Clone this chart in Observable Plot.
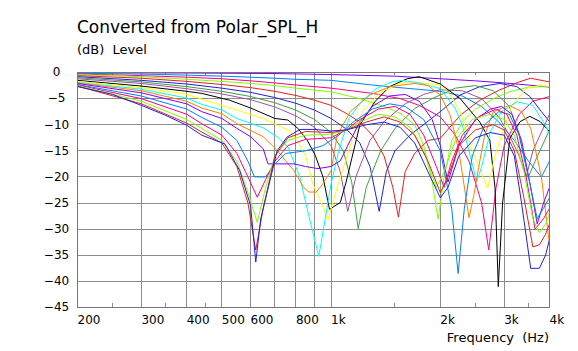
<!DOCTYPE html>
<html><head><meta charset="utf-8">
<script src="https://cdn.jsdelivr.net/npm/d3@7"></script>
<script src="https://cdn.jsdelivr.net/npm/@observablehq/plot@0.6"></script>
<style>
body{margin:0;background:#fff}
svg{display:block}
</style>
</head><body><div id="chart"></div>
<script>
const title = "Converted from Polar_SPL_H";
const yUnit = "(dB)  Level";
const xLabel = "Frequency  (Hz)";
const xTicks = [200,300,400,500,600,800,1000,2000,3000,4000];
const xTickLabels = ["200","300","400","500","600","800","1k","2k","3k","4k"];
const xGrid = [300,400,500,600,700,800,900,1000,2000,3000];
const xMinor = [250,350,450,1500,2500,3500];
const yTicks = [0,-5,-10,-15,-20,-25,-30,-35,-40,-45];
const yGrid = [-5,-10,-15,-20,-25,-30,-35,-40];
const xDomain = [200,4000];
const yDomain = [-45,0];

const colors = ["#ff8000","#8000ff","#0080ff","#ff0080","#80ff00","#e02020","#2020e0","#40a040","#a050a0","#000000","#ffff00","#00ffff",
                "#ff8000","#8000ff","#0080ff","#ff0080","#80ff00","#e02020","#2020e0"];

const s00 = [[200,0],[4000,0]];
const s01 = [[200,-0.05],[400,-0.1],[700,-0.2],[1000,-0.4],[1500,-0.7],[2000,-1.2],[2500,-1.6],[3000,-2.0],[3500,-2.4],[4000,-2.8]];
const s02 = [[200,-0.15],[300,-0.3],[400,-0.5],[500,-0.7],[600,-0.9],[700,-1.1],[800,-1.3],[1000,-1.5],[1300,-2.4],[1600,-3.0],[2000,-3.6],[2300,-4.5],[2600,-6.5],[2900,-9.5],[3200,-13],[3500,-17],[3800,-20],[4000,-17]];
const s03 = [[200,-0.3],[300,-0.6],[400,-0.9],[500,-1.2],[600,-1.6],[700,-2.0],[800,-2.4],[1000,-3.0],[1300,-4.0],[1550,-5.0],[1750,-6.3],[2000,-8.5],[2200,-12],[2400,-17],[2600,-25],[2720,-34],[2850,-22],[3000,-14],[3300,-8],[3600,-5.5],[4000,-4.6]];
const s04 = [[200,-0.4],[300,-0.8],[400,-1.3],[500,-1.7],[600,-2.1],[700,-2.5],[800,-3.0],[1000,-3.7],[1200,-5.0],[1400,-6.5],[1550,-7.8],[1700,-10],[1800,-14],[1900,-21],[1972,-28.1],[2050,-20],[2150,-13],[2300,-9.5],[2500,-7],[2800,-5],[3100,-3.7],[3500,-2.8],[4000,-2.7]];
const s05 = [[200,-0.6],[300,-1.1],[400,-1.7],[500,-2.3],[600,-2.9],[700,-3.6],[800,-4.4],[900,-5.3],[1000,-6.3],[1100,-7.8],[1200,-9.5],[1300,-12],[1400,-16],[1480,-22],[1533,-27.7],[1600,-19],[1700,-15.5],[1850,-13],[2000,-12.6],[2270,-8.2],[2570,-5.3],[2900,-3.4],[3300,-1.8],[3550,-1.1],[4000,-1.8]];
const s06 = [[200,-0.8],[300,-1.5],[400,-2.2],[500,-3.0],[600,-3.8],[700,-4.8],[800,-5.9],[900,-7.2],[1000,-8.8],[1100,-10.8],[1200,-13.5],[1280,-18],[1357,-26.6],[1420,-19],[1500,-15],[1650,-12],[2000,-7.5],[2270,-4.3],[2570,-2.7],[2920,-2.1],[3250,-2.7],[3530,-4.6],[3800,-7.5],[4000,-9.4]];
const s07 = [[200,-1.0],[300,-1.8],[400,-2.7],[500,-3.6],[600,-4.6],[700,-5.8],[800,-7.2],[900,-9.0],[1000,-11.5],[1080,-15],[1140,-21],[1188,-29.9],[1250,-22],[1370,-15],[1500,-10.7],[1700,-6.9],[1900,-5.0],[2200,-3.0],[2500,-2.5],[2800,-3.5],[3100,-6.5],[3300,-12],[3500,-20],[3650,-17],[4000,-11]];
const s08 = [[200,-1.2],[300,-2.1],[400,-3.1],[500,-4.1],[600,-5.2],[700,-6.6],[800,-8.3],[900,-10.5],[1000,-14],[1060,-19],[1112,-26.6],[1170,-20],[1280,-13],[1400,-9.4],[1600,-6],[1800,-4.2],[2000,-3.3],[2300,-3.5],[2600,-5],[2900,-8.5],[3100,-12],[3300,-16],[3450,-20],[3600,-15],[4000,-8]];
const s09 = [[200,-1.5],[300,-2.6],[400,-3.6],[440,-4.0],[525,-5.3],[600,-6.8],[700,-8.8],[760,-9.1],[810,-10.7],[860,-13],[905,-15.9],[950,-20],[990,-26.2],[1060,-24.9],[1100,-21],[1140,-16.5],[1200,-10.1],[1320,-5.6],[1450,-2.7],[1620,-1.2],[1750,-0.8],[2000,-2.2],[2270,-5],[2570,-9.5],[2740,-13],[2830,-22],[2890,-41],[2970,-25],[3110,-12.6],[3320,-9.4],[3530,-8.4],[3770,-9.4],[4000,-11.3]];
const s10 = [[200,-1.7],[300,-2.9],[400,-4.2],[440,-5.1],[500,-6.3],[550,-7.2],[650,-8.8],[710,-10.1],[760,-11],[810,-13.3],[850,-15.9],[890,-21.3],[940,-25],[980,-28.3],[1020,-24],[1060,-20],[1110,-15.8],[1150,-12],[1220,-7.5],[1370,-3.7],[1550,-2.1],[1650,-1.8],[2000,-2.4],[2130,-4.3],[2270,-7.5],[2350,-10.7],[2450,-14.9],[2700,-22.2],[2800,-17.4],[2860,-15],[2950,-12],[3150,-6.3],[3450,-3.1],[3770,-2.4],[4000,-2.7]];
const s11 = [[200,-1.9],[300,-3.2],[400,-4.9],[440,-6.1],[500,-7.2],[550,-8.8],[650,-10.6],[710,-12.3],[760,-14.2],[820,-20],[870,-27.7],[925,-35.2],[965,-27.7],[1000,-21.3],[1050,-15],[1120,-8.8],[1210,-5.6],[1330,-3.1],[1470,-1.8],[1560,-1.5],[1750,-2],[2000,-3.1],[2200,-6.9],[2300,-10.1],[2400,-15],[2520,-21],[2600,-18],[2750,-11.3],[2950,-7.5],[3250,-5.6],[3600,-6.3],[3900,-10.1],[4000,-12]];
const s12 = [[200,-2.0],[300,-3.5],[400,-5.5],[440,-6.8],[500,-7.9],[550,-9.8],[650,-12.3],[710,-14.9],[750,-16.9],[790,-18.8],[840,-22],[870,-22.9],[910,-22.9],[950,-21.3],[1000,-18.8],[1040,-12],[1130,-7.5],[1280,-4.3],[1450,-2.7],[1700,-2.1],[1850,-2.5],[2000,-4.3],[2130,-8.2],[2250,-15],[2400,-27.8],[2480,-23.2],[2550,-18.2],[2650,-12],[2800,-7.5],[3100,-6.3],[3350,-7.5],[3550,-10.7],[3800,-20],[4000,-33]];
const s13 = [[200,-2.1],[300,-3.9],[400,-6.0],[440,-7.5],[500,-8.8],[550,-10.7],[600,-12.3],[650,-14.6],[670,-17.5],[790,-17.5],[850,-18],[920,-18.4],[1000,-18],[1060,-16.9],[1130,-13],[1200,-9.5],[1300,-6.5],[1450,-4.5],[1600,-4.2],[1750,-5.5],[1900,-9],[2000,-14],[2100,-21],[2250,-14],[2500,-9],[2750,-7],[2950,-6.5],[3150,-8],[3350,-13],[3550,-22],[3700,-29],[3850,-25],[4000,-22]];
const s14 = [[200,-2.3],[300,-4.5],[400,-7],[440,-8.6],[500,-10.5],[550,-13],[590,-17],[615,-20],[660,-20],[700,-17.5],[750,-15.5],[850,-15],[950,-14],[1050,-12],[1150,-9.5],[1300,-7],[1450,-6],[1600,-6.5],[1800,-9],[2000,-15],[2150,-26],[2240,-38.5],[2330,-26],[2450,-16],[2650,-10],[2900,-7.5],[3100,-8],[3300,-12],[3500,-20],[3700,-28],[3850,-26],[4000,-24]];
const s15 = [[200,-2.4],[300,-5],[400,-8],[440,-9.8],[500,-12],[550,-15.5],[590,-20],[626,-23.9],[660,-20.5],[700,-17],[760,-14],[850,-12.8],[1000,-12.5],[1100,-11],[1200,-9],[1350,-7],[1500,-6.5],[1650,-8],[1800,-12],[1950,-18],[2050,-22],[2150,-17],[2300,-12],[2550,-8.5],[2850,-7],[3050,-8],[3250,-12],[3450,-20],[3650,-30],[3850,-28],[4000,-26]];
const s16 = [[200,-2.5],[300,-5.5],[400,-9],[440,-10.7],[500,-13],[550,-17],[590,-23],[626,-28.7],[660,-22],[700,-16],[760,-13],[850,-12],[1000,-11.8],[1100,-11],[1200,-9.5],[1350,-8],[1500,-8.5],[1650,-10.5],[1800,-15],[1950,-22],[2050,-19],[2200,-13],[2450,-9],[2750,-8],[3000,-9],[3200,-12],[3400,-19],[3600,-28],[3750,-30.7],[3900,-29],[4000,-27]];
const s17 = [[200,-2.6],[300,-6],[400,-9.7],[440,-11.4],[500,-13.5],[550,-18],[590,-25],[620,-34],[650,-26],[700,-16],[760,-12.5],[850,-11.3],[1000,-11.5],[1100,-11],[1250,-9.5],[1400,-8.5],[1550,-9.5],[1700,-12],[1850,-17],[2000,-23],[2100,-20],[2250,-14],[2500,-11],[2800,-10],[3000,-11],[3200,-15],[3400,-24],[3600,-33.4],[3750,-33],[3900,-31],[4000,-29]];
const s18 = [[200,-2.7],[250,-4.2],[300,-6.3],[350,-8.2],[400,-10.1],[440,-12],[510,-13.7],[560,-18.8],[600,-25.5],[620,-36.3],[640,-28],[710,-15],[755,-12.4],[820,-10.9],[900,-10.9],[1000,-11.2],[1100,-11],[1250,-10],[1400,-9.5],[1550,-10.5],[1700,-13.5],[1850,-19],[2000,-24],[2100,-22],[2250,-16],[2500,-12.5],[2750,-11.5],[3000,-12],[3200,-16],[3350,-25],[3550,-37.5],[3750,-37.5],[3900,-35],[4000,-32]];

const series = [s00,s01,s02,s03,s04,s05,s06,s07,s08,s09,s10,s11,s12,s13,s14,s15,s16,s17,s18];

const font = "DejaVu Sans, Verdana, sans-serif";
const gridColor = "#8c8c8c";
const labelOf = new Map(xTicks.map((t,i)=>[t, xTickLabels[i]]));

const chart = Plot.plot({
  width: 578, height: 351,
  marginLeft: 77, marginRight: 29, marginTop: 72, marginBottom: 44,
  style: {fontFamily: font, fontSize: "12px", background: "#fff", color: "#000"},
  x: {type: "log", domain: xDomain, axis: null},
  y: {domain: yDomain},
  marks: [
    Plot.gridX(xGrid, {stroke: gridColor, strokeOpacity: 1, shapeRendering: "crispEdges"}),
    Plot.gridY(yGrid, {stroke: gridColor, strokeOpacity: 1, shapeRendering: "crispEdges"}),
    Plot.ruleX(xMinor, {x: d => d, y1: yDomain[0], y2: yDomain[0] + 0.8, stroke: gridColor, shapeRendering: "crispEdges"}),
    Plot.ruleX(xMinor, {x: d => d, y1: yDomain[1], y2: yDomain[1] - 0.5, stroke: gridColor, shapeRendering: "crispEdges"}),
    ...series.map((s, i) => Plot.line(s, {x: d => d[0], y: d => d[1], stroke: colors[i], strokeWidth: 1, clip: true})),
    Plot.frame({stroke: "#777", shapeRendering: "crispEdges"}),
    Plot.text(xTicks, {x: d => d, frameAnchor: "bottom", text: d => labelOf.get(d), textAnchor: "start", lineAnchor: "top", dy: 8, fontSize: 12, fill: "#000"}),
    Plot.axisY(yTicks, {tickSize: 0, tickPadding: 21, textAnchor: "middle", fontSize: 12, label: null})
  ]
});
document.getElementById("chart").appendChild(chart);

const svg = d3.select(chart);
svg.append("text").attr("x", 77).attr("y", 33).attr("text-anchor", "start").attr("font-size", 17).attr("font-family", font).attr("fill", "#000").text(title);
svg.append("text").attr("x", 77).attr("y", 53.5).attr("text-anchor", "start").attr("font-size", 13).attr("font-family", font).attr("fill", "#000").style("white-space", "pre").text(yUnit);
svg.append("text").attr("x", 549).attr("y", 342).attr("text-anchor", "end").attr("font-size", 13).attr("font-family", font).attr("fill", "#000").style("white-space", "pre").text(xLabel);
</script>
</body></html>
